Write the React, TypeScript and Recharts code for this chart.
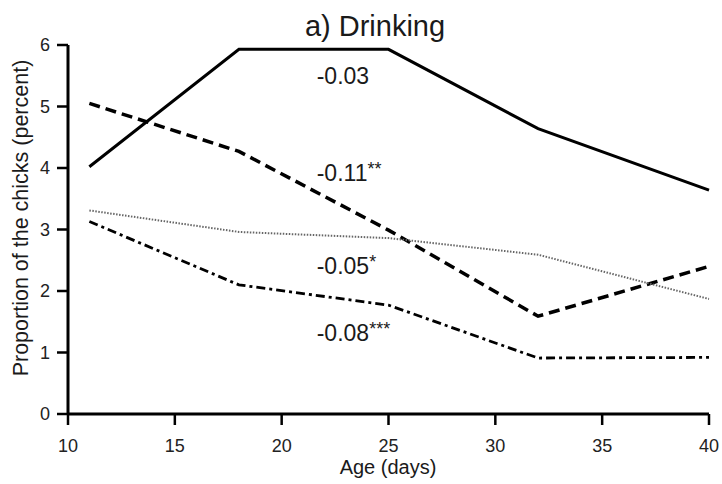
import React from "react";
import { LineChart, Line, XAxis, YAxis, ReferenceDot } from "recharts";

const ages = [11, 18, 25, 32, 40];
const seriesA = [4.02, 5.93, 5.93, 4.64, 3.64];
const seriesB = [5.05, 4.27, 2.99, 1.59, 2.4];
const seriesC = [3.31, 2.96, 2.86, 2.59, 1.87];
const seriesD = [3.13, 2.1, 1.77, 0.91, 0.92];

const xTicks = [10, 15, 20, 25, 30, 35, 40];
const yTicks = [0, 1, 2, 3, 4, 5, 6];

// slope coefficients written next to each line, with significance stars
const annotations = [
  { value: "-0.03", stars: "", x: 21.64, y: 5.5 },
  { value: "-0.11", stars: "**", x: 21.64, y: 3.92 },
  { value: "-0.05", stars: "*", x: 21.64, y: 2.4 },
  { value: "-0.08", stars: "***", x: 21.64, y: 1.32 },
];

const data = ages.map((age, i) => ({
  age,
  a: seriesA[i],
  b: seriesB[i],
  c: seriesC[i],
  d: seriesD[i],
}));

const FONT = "'Liberation Sans', Arial, Helvetica, sans-serif";
const INK = "#1a1a1a";

export default function App() {
  return (
    <div style={{ position: "absolute", left: 0, top: 0, fontFamily: FONT }}>
      <LineChart
        width={722}
        height={484}
        data={data}
        margin={{ top: 45, right: 13, bottom: 0, left: 0 }}
      >
        <text
          x={375}
          y={26}
          textAnchor="middle"
          dominantBaseline="central"
          fontSize={29}
          fill={INK}
          fontFamily={FONT}
        >
          a) Drinking
        </text>
        <text
          x={388}
          y={467}
          textAnchor="middle"
          dominantBaseline="central"
          fontSize={20}
          fill={INK}
          fontFamily={FONT}
        >
          Age (days)
        </text>
        <text
          x={21}
          y={218}
          transform="rotate(-90 21 218)"
          textAnchor="middle"
          dominantBaseline="central"
          fontSize={21.5}
          fill={INK}
          fontFamily={FONT}
        >
          Proportion of the chicks (percent)
        </text>
        <XAxis
          dataKey="age"
          type="number"
          domain={[10, 40]}
          ticks={xTicks}
          height={70}
          tickSize={11}
          tickMargin={14}
          axisLine={{ stroke: "#000", strokeWidth: 3 }}
          tickLine={{ stroke: "#000", strokeWidth: 2.5 }}
          tick={{ fill: "#222", fontSize: 18, fontFamily: FONT }}
        />
        <YAxis
          type="number"
          domain={[0, 6]}
          ticks={yTicks}
          width={68}
          tickSize={11}
          tickMargin={7}
          axisLine={{ stroke: "#000", strokeWidth: 3 }}
          tickLine={{ stroke: "#000", strokeWidth: 2.5 }}
          tick={{ fill: "#222", fontSize: 18, fontFamily: FONT }}
        />
        <Line
          dataKey="a"
          stroke="#000"
          strokeWidth={3}
          dot={false}
          isAnimationActive={false}
        />
        <Line
          dataKey="b"
          stroke="#000"
          strokeWidth={3.5}
          strokeDasharray="11 6"
          dot={false}
          isAnimationActive={false}
        />
        <Line
          dataKey="c"
          stroke="#666"
          strokeWidth={2}
          strokeDasharray="1.5 1.5"
          dot={false}
          isAnimationActive={false}
        />
        <Line
          dataKey="d"
          stroke="#000"
          strokeWidth={2.8}
          strokeDasharray="9 4 3 4"
          dot={false}
          isAnimationActive={false}
        />
        {annotations.map((a) => (
          <ReferenceDot
            key={a.value}
            x={a.x}
            y={a.y}
            r={0}
            shape={(p: any) => (
              <text
                x={p.cx}
                y={p.cy}
                textAnchor="start"
                dominantBaseline="central"
                fontSize={23}
                fill={INK}
                fontFamily={FONT}
              >
                {a.value}
                {a.stars ? (
                  <tspan fontSize={18} dy={-4}>
                    {a.stars}
                  </tspan>
                ) : null}
              </text>
            )}
          />
        ))}
      </LineChart>
    </div>
  );
}
